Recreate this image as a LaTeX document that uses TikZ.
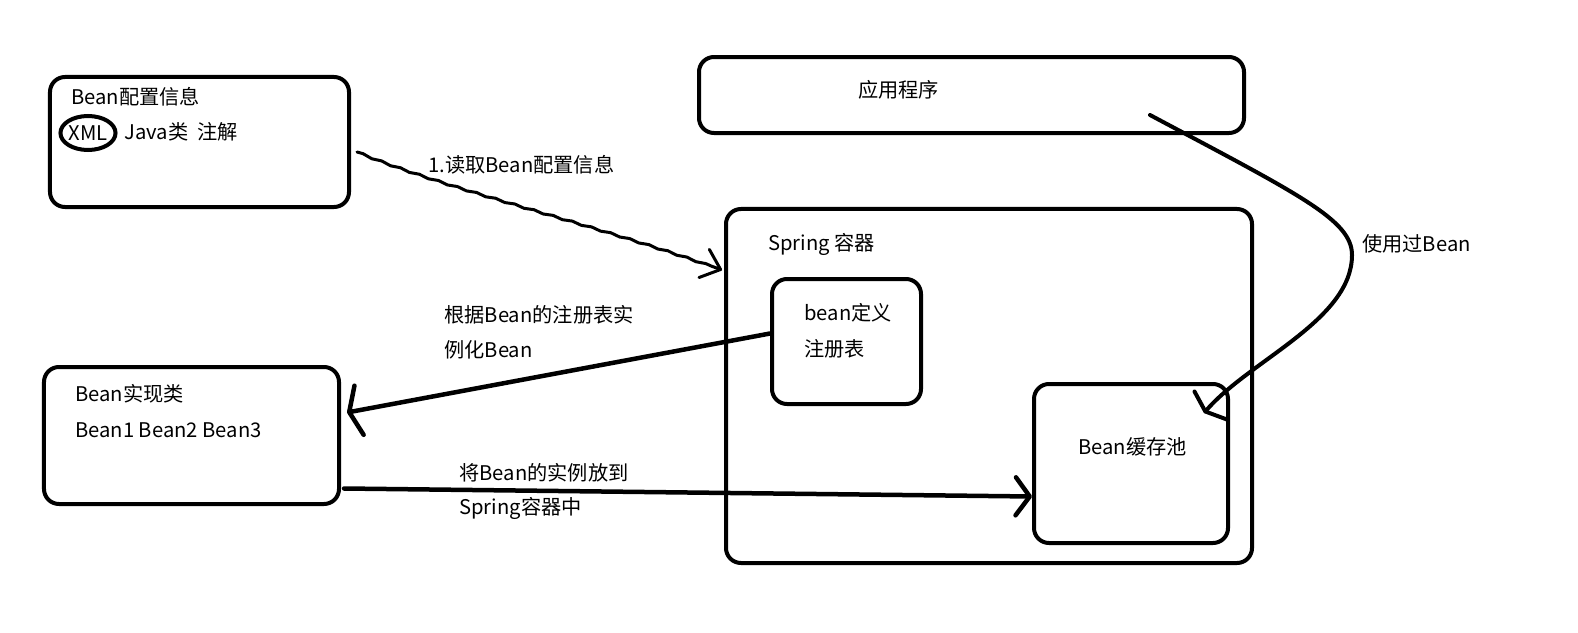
\documentclass[tikz,border=0pt]{standalone}
\usepackage{fontspec}
\setmainfont{Noto Sans CJK SC}
\usetikzlibrary{arrows.meta, shapes.geometric, decorations.pathmorphing, calc}
\tikzset{
x=0.2mm, y=-0.2mm,
box/.style={%
    rectangle,
    inner sep=0pt,
    rounded corners=3mm,
    line width=0.8mm,
    draw=black
},
ring/.style={ellipse, draw=black, line width=0.8mm, inner sep=0pt,
    minimum width=10mm, minimum height=6.8mm},
lbl/.style={anchor=west, inner sep=0pt, text=black,
    font=\fontsize{11.5pt}{14pt}\selectfont},
hand/.style={line width=#1, line cap=round, line join=round},
hand/.default=0.9mm,
}

\begin{document}
\begin{tikzpicture}
\path[use as bounding box, fill=white] (0,0) rectangle (1578,633);
% boxes
\node[box, minimum width=59.8mm, minimum height=26mm] (cfg) at (199.5,142) {};
\node[box, minimum width=109mm, minimum height=15.2mm] (app) at (971.5,95) {};
\node[box, minimum width=105.2mm, minimum height=70.8mm] (spring) at (989,386) {};
\node[box, minimum width=29.8mm, minimum height=25mm] (def) at (846.5,341.5) {};
\node[box, minimum width=59mm, minimum height=27.4mm] (impl) at (191.5,435.5) {};
\node[box, minimum width=38.8mm, minimum height=31.8mm] (pool) at (1131,463.5) {};
% texts
\node[lbl] (cfgname) at (71,97) {Bean配置信息};
\node[ring, font=\fontsize{11.5pt}{14pt}\selectfont] (xml) at (88,133) {XML};
\node[lbl] (java) at (124,132) {Java类};
\node[lbl] (anno) at (197,132) {注解};
\node[lbl] (appname) at (858,90) {应用程序};
\node[lbl] (springname) at (768,244) {Spring 容器};
\node[lbl] (def1) at (804,313) {bean定义};
\node[lbl] (def2) at (804,349) {注册表};
\node[lbl] (impl1) at (75,394) {Bean实现类};
\node[lbl] (impl2) at (75,430) {Bean1 Bean2 Bean3};
\node[lbl] (poolname) at (1078,447) {Bean缓存池};
\node[lbl] (read) at (428,165) {1.读取Bean配置信息};
\node[lbl] (inst1) at (444,315) {根据Bean的注册表实};
\node[lbl] (inst2) at (444,350) {例化Bean};
\node[lbl] (put1) at (459,473) {将Bean的实例放到};
\node[lbl] (put2) at (459,508) {Spring容器中};
\node[lbl] (used) at (1362,244) {使用过Bean};
% free ends
\coordinate (readstart) at (357,152);
\coordinate (readtip) at (722,270);
\coordinate (usestart) at (1150,115);
\coordinate (usetip) at (1204,413);
% connectors
\draw[hand=0.6mm, -{Straight Barb[length=3.5mm, width=6mm, round]},
    decorate, decoration={snake, amplitude=0.15mm, segment length=4mm, post length=1mm}]
    (readstart) .. controls (450,190) and (600,225) .. (readtip);
\draw[hand, -{Straight Barb[length=2mm, width=10mm, round]}]
    ($(def.west)+(0,-8)$) -- ($(impl.east)+(6,-23)$);
\draw[hand, -{Straight Barb[length=2.8mm, width=7.6mm, round]}]
    ($(impl.east)+(3,53)$) -- ($(pool.west)+(0,33)$);
\draw[hand=0.8mm, -{Straight Barb[length=1.6mm, width=8.5mm, round]}]
    (usestart) .. controls (1300,195) and (1352,220) .. (1352,255)
    .. controls (1352,320) and (1250,360) .. (usetip);
\end{tikzpicture}
\end{document}
